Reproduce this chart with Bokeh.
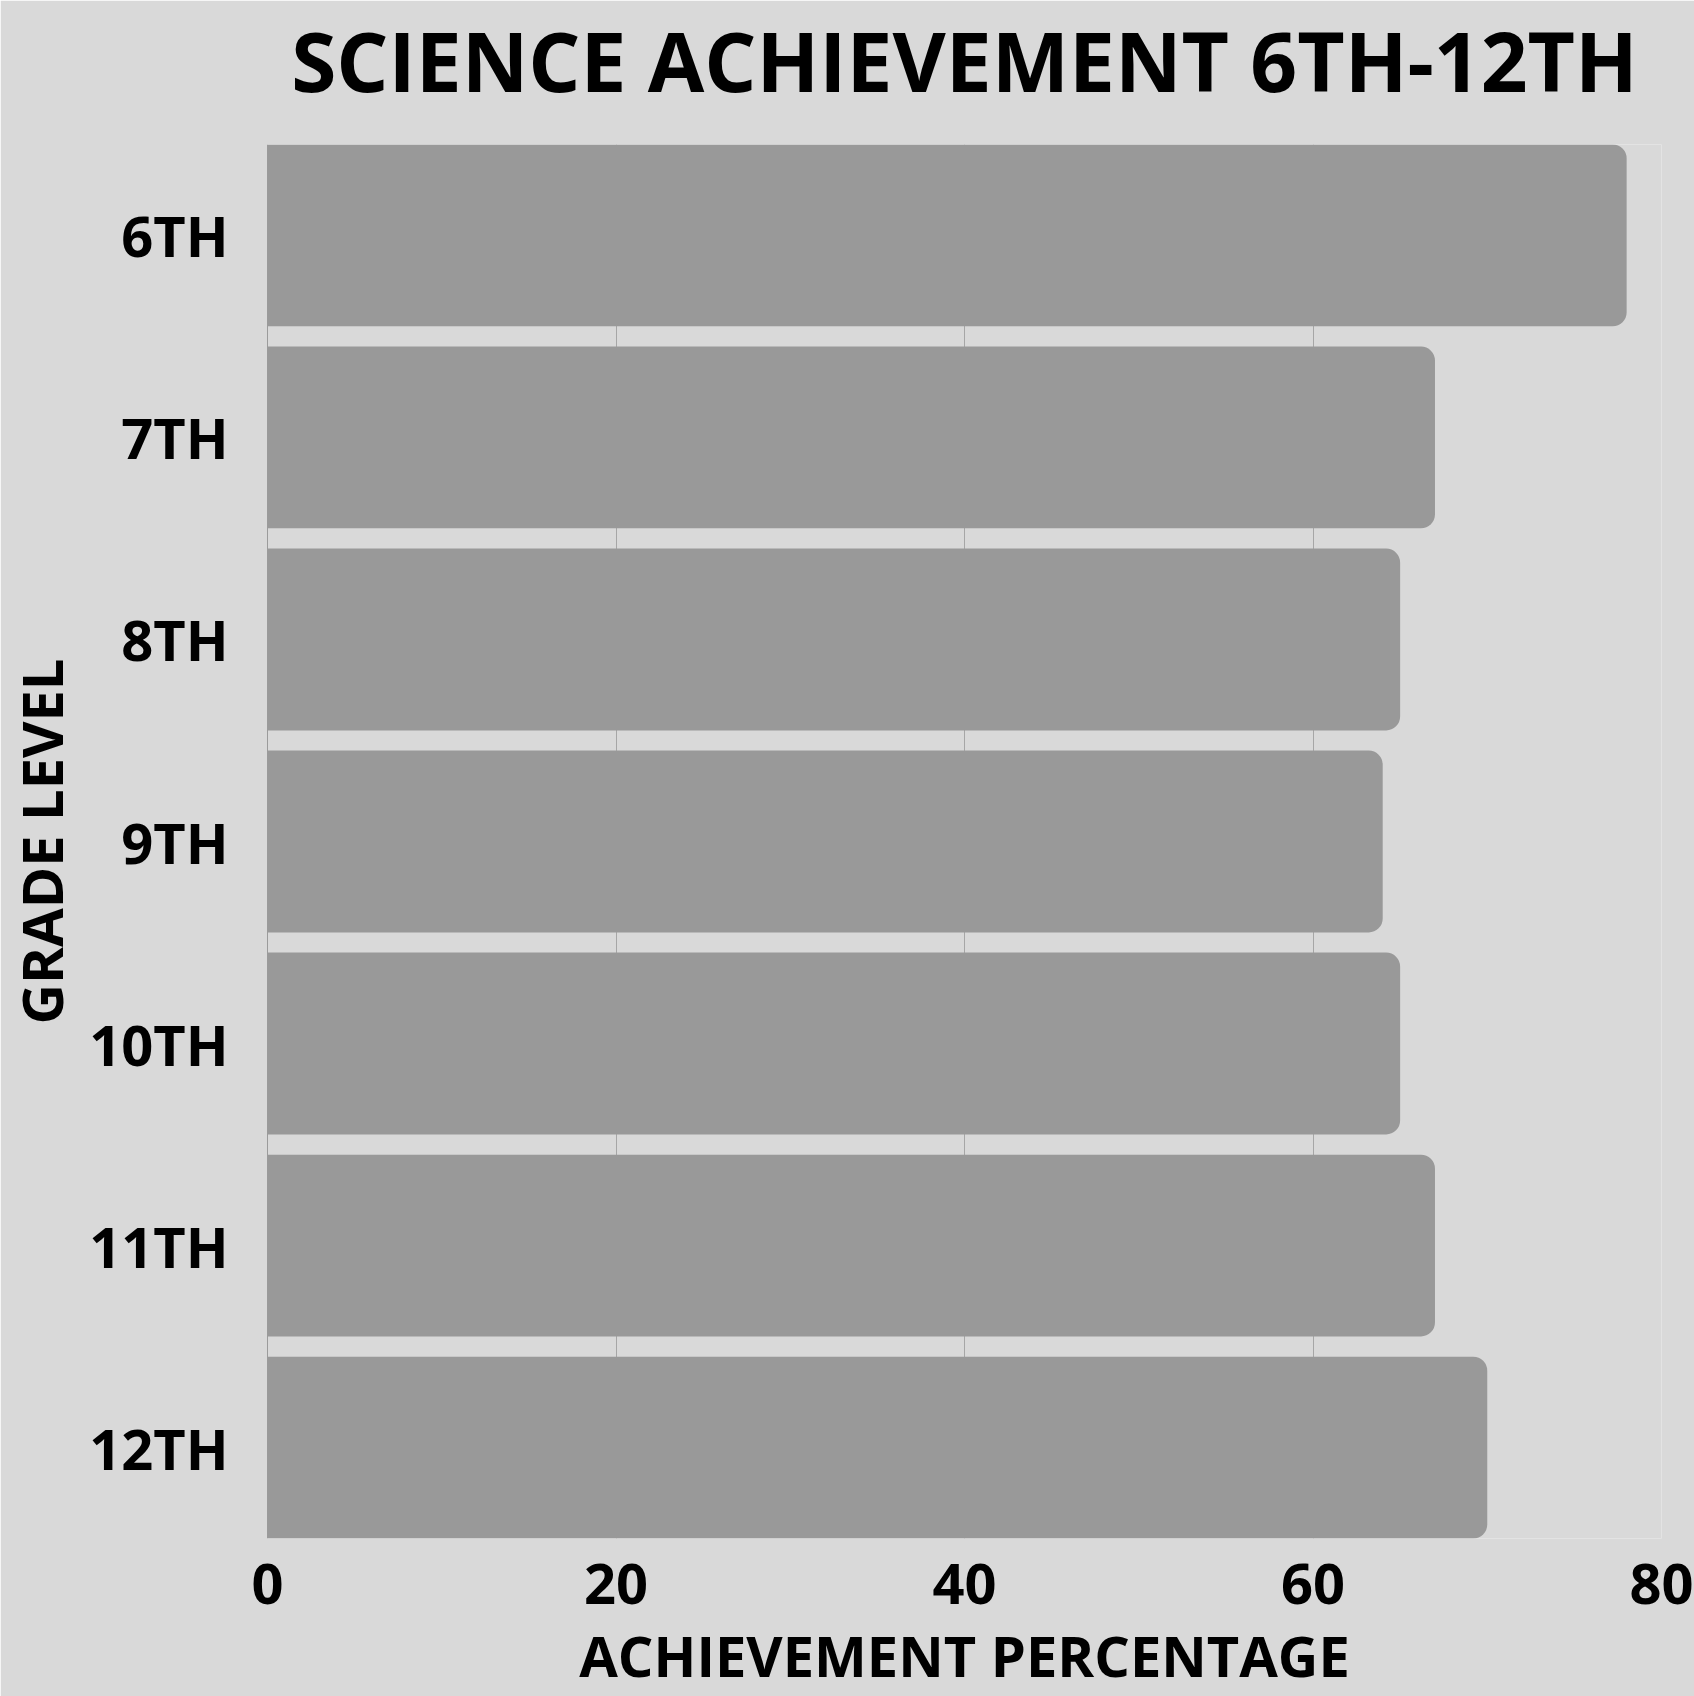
from bokeh.plotting import figure
from bokeh.models import Range1d, FixedTicker, Span, LinearAxis
from bokeh.embed import file_html
from bokeh.resources import INLINE

# ---- data ----
grades = ["6TH", "7TH", "8TH", "9TH", "10TH", "11TH", "12TH"]
achievement = [78, 67, 65, 64, 65, 67, 70]
x_ticks = [0, 20, 40, 60, 80]
title_text = "SCIENCE ACHIEVEMENT 6TH-12TH"
x_label_text = "ACHIEVEMENT PERCENTAGE"
y_label_text = "GRADE LEVEL"

positions = list(range(len(grades)))
x_mid = (x_ticks[0] + x_ticks[-1]) / 2

BG = "#d9d9d9"
BAR = "#999999"
FONT = "Open Sans"

p = figure(
    width=1694, height=1696,
    x_range=Range1d(x_ticks[0], x_ticks[-1]),
    y_range=Range1d(len(grades) - 1 + 0.45, -0.45),
    output_backend="svg", toolbar_location=None,
    min_border_left=267, min_border_right=33,
    min_border_top=144, min_border_bottom=158,
)
p.title.text = ""
p.background_fill_color = BG
p.border_fill_color = BG
p.outline_line_color = None

p.hbar(y=positions, right=achievement, left=0, height=0.9,
       fill_color=BAR, line_color=None, border_radius=(0, 14, 14, 0))

# zero line under bars
p.add_layout(Span(location=0, dimension="height", line_color="#555555",
                  line_width=1, level="underlay"))

# grid
p.ygrid.grid_line_color = None
p.xgrid.grid_line_color = "#a6a6a6"
p.xgrid.grid_line_width = 1
p.xgrid.ticker = FixedTicker(ticks=x_ticks)


def bare(axis):
    axis.axis_line_color = None
    axis.major_tick_line_color = None
    axis.minor_tick_line_color = None
    axis.major_tick_out = 0
    axis.major_tick_in = 0
    axis.major_label_text_font = FONT
    axis.major_label_text_font_style = "bold"
    axis.major_label_text_color = "black"


# x axis (bottom)
xa = p.below[0]
bare(xa)
xa.ticker = FixedTicker(ticks=x_ticks)
xa.major_label_standoff = 25
xa.major_label_text_font_size = "56px"

# x axis title, as a second axis below
xt = LinearAxis(ticker=FixedTicker(ticks=[x_mid]),
                major_label_overrides={x_mid: x_label_text})
bare(xt)
xt.major_label_standoff = 10
xt.major_label_text_font_size = "56px"
p.add_layout(xt, "below")

# y axis
ya = p.left[0]
bare(ya)
ya.ticker = FixedTicker(ticks=positions)
ya.major_label_overrides = {i: g for i, g in zip(positions, grades)}
ya.major_label_standoff = 39
ya.major_label_text_font_size = "56px"
ya.axis_label = y_label_text
ya.axis_label_standoff = 7
ya.axis_label_text_font = FONT
ya.axis_label_text_font_style = "bold"
ya.axis_label_text_font_size = "56px"
ya.axis_label_text_color = "black"

# chart title, as an axis above the frame
ta = LinearAxis(ticker=FixedTicker(ticks=[x_mid]),
                major_label_overrides={x_mid: title_text})
bare(ta)
ta.major_label_standoff = 29
ta.major_label_text_font_size = "82px"
p.add_layout(ta, "above")

open("out.html", "w").write(file_html(p, INLINE))
